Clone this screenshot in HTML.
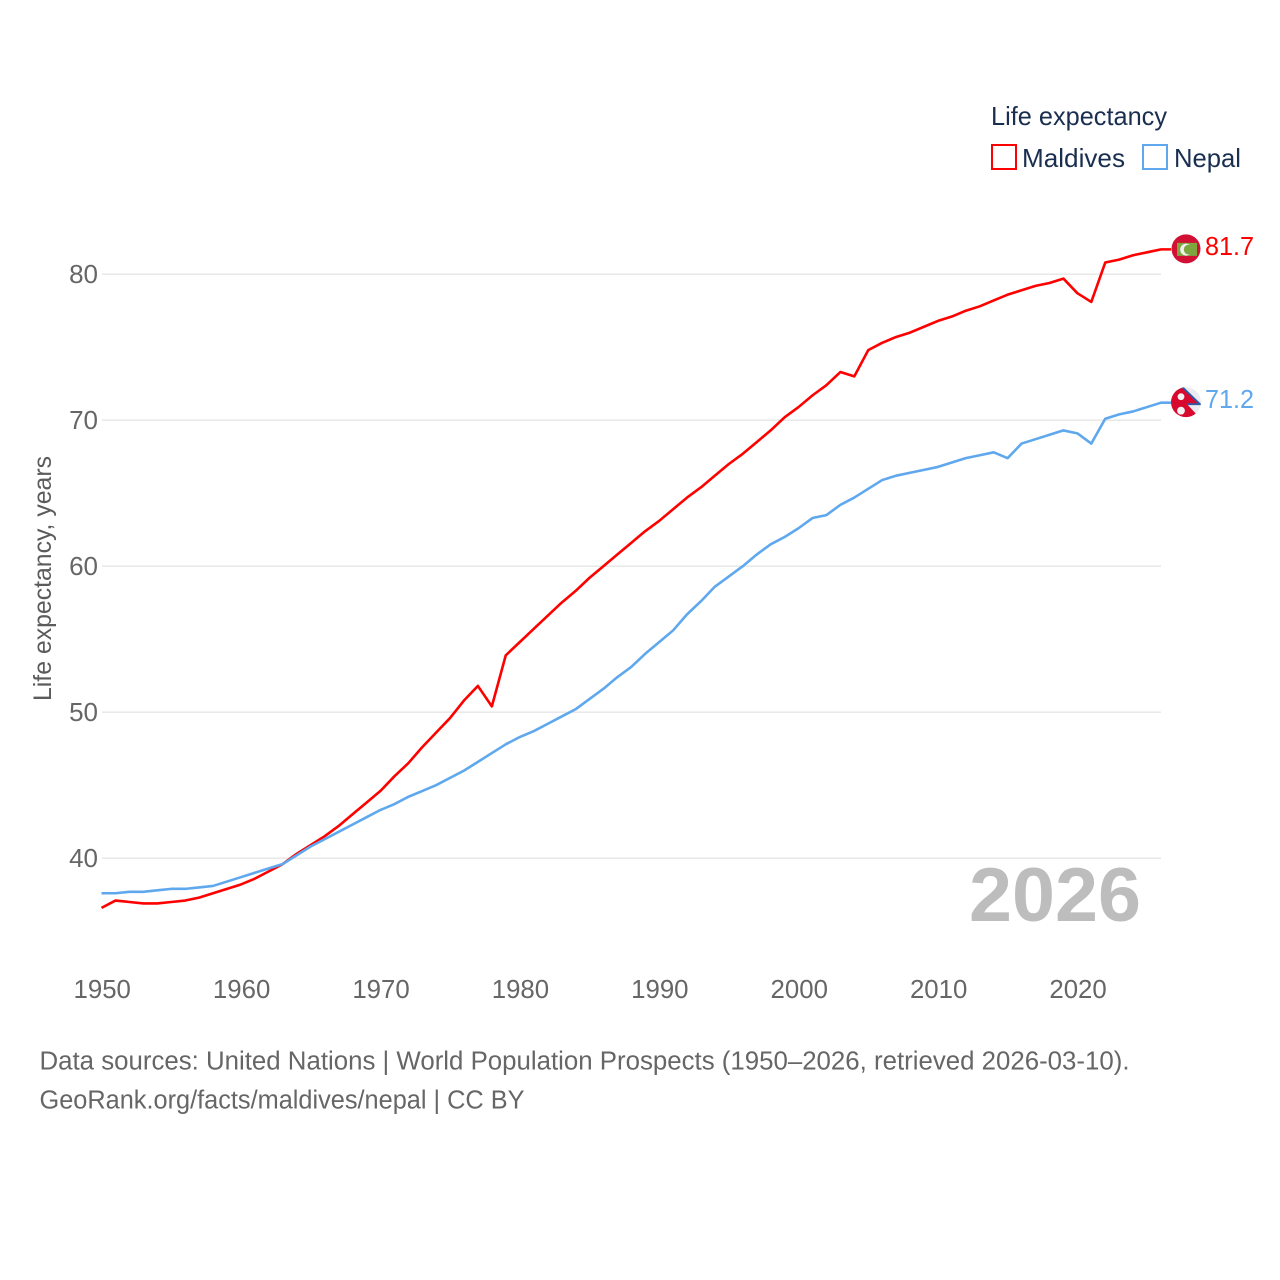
<!DOCTYPE html>
<html>
<head>
<meta charset="utf-8">
<title>Life expectancy: Maldives and Nepal</title>
<style>
html,body{margin:0;padding:0;background:#fff;}
svg{display:block;}
text{font-family:"Liberation Sans",sans-serif;}
</style>
</head>
<body>
<svg id="chart" xmlns="http://www.w3.org/2000/svg" width="1280" height="1280" viewBox="0 0 1280 1280">
  <rect x="0" y="0" width="1280" height="1280" fill="#fff"/>
  <defs>
    <clipPath id="clip-mv"><circle id="clip-mv-c" r="14.5"/></clipPath>
    <clipPath id="clip-np"><circle id="clip-np-c" r="15"/></clipPath>
  </defs>
  <g id="grid"></g>
  <g id="yticks"></g>
  <g id="xticks"></g>
  <text transform="translate(51,578.5) rotate(-90)" text-anchor="middle" font-size="25" fill="#5b5b5b" textLength="245" lengthAdjust="spacingAndGlyphs">Life expectancy, years</text>
  <text x="969" y="921" font-size="76" font-weight="700" fill="#bdbdbd" textLength="172" lengthAdjust="spacingAndGlyphs">2026</text>
  <g id="series"></g>
  <g id="flags"></g>
  <g>
    <text x="991" y="125" font-size="26" fill="#1a2f50" textLength="176" lengthAdjust="spacingAndGlyphs">Life expectancy</text>
    <g>
      <rect x="992" y="145" width="24" height="24" fill="#fff" stroke="#ff0000" stroke-width="2"/>
      <text x="1022" y="167" font-size="26" fill="#1a2f50" textLength="103" lengthAdjust="spacingAndGlyphs">Maldives</text>
    </g>
    <g>
      <rect x="1143" y="145" width="24" height="24" fill="#fff" stroke="#5fa8ee" stroke-width="2"/>
      <text x="1174" y="167" font-size="26" fill="#1a2f50" textLength="67" lengthAdjust="spacingAndGlyphs">Nepal</text>
    </g>
  </g>
  <text x="39.5" y="1069.5" font-size="25.5" fill="#666" textLength="1090" lengthAdjust="spacingAndGlyphs">Data sources: United Nations | World Population Prospects (1950–2026, retrieved 2026-03-10).</text>
  <text x="39.5" y="1108.5" font-size="25.5" fill="#666" textLength="485" lengthAdjust="spacingAndGlyphs">GeoRank.org/facts/maldives/nepal | CC BY</text>
</svg>
<script>
const startYear = 1950;
const maldivesValues = [36.6,37.1,37.0,36.9,36.9,37.0,37.1,37.3,37.6,37.9,38.2,38.6,39.1,39.6,40.3,40.9,41.5,42.2,43.0,43.8,44.6,45.6,46.5,47.6,48.6,49.6,50.8,51.8,50.4,53.9,54.8,55.7,56.6,57.5,58.3,59.2,60.0,60.8,61.6,62.4,63.1,63.9,64.7,65.4,66.2,67.0,67.7,68.5,69.3,70.2,70.9,71.7,72.4,73.3,73.0,74.8,75.3,75.7,76.0,76.4,76.8,77.1,77.5,77.8,78.2,78.6,78.9,79.2,79.4,79.7,78.7,78.1,80.8,81.0,81.3,81.5,81.7];
const nepalValues = [37.6,37.6,37.7,37.7,37.8,37.9,37.9,38.0,38.1,38.4,38.7,39.0,39.3,39.6,40.2,40.8,41.3,41.8,42.3,42.8,43.3,43.7,44.2,44.6,45.0,45.5,46.0,46.6,47.2,47.8,48.3,48.7,49.2,49.7,50.2,50.9,51.6,52.4,53.1,54.0,54.8,55.6,56.7,57.6,58.6,59.3,60.0,60.8,61.5,62.0,62.6,63.3,63.5,64.2,64.7,65.3,65.9,66.2,66.4,66.6,66.8,67.1,67.4,67.6,67.8,67.4,68.4,68.7,69.0,69.3,69.1,68.4,70.1,70.4,70.6,70.9,71.2];
const yTickValues = [40,50,60,70,80];
const xTickYears = [1950,1960,1970,1980,1990,2000,2010,2020];

const NS = 'http://www.w3.org/2000/svg';
const xScale = function (year) { return 101.5 + (year - 1950) * (1059.5 / 76); };
const yScale = function (v) { return 858.2 - (v - 40) * 14.6; };

function mk(parent, tag, attrs, text) {
  const el = document.createElementNS(NS, tag);
  for (const k in attrs) el.setAttribute(k, attrs[k]);
  if (text !== undefined) el.textContent = text;
  parent.appendChild(el);
  return el;
}

const gridG = document.getElementById('grid');
const yG = document.getElementById('yticks');
const xG = document.getElementById('xticks');
const seriesG = document.getElementById('series');
const flagsG = document.getElementById('flags');

yTickValues.forEach(function (v) {
  const line = mk(gridG, 'line', {x1: 102, x2: 1161, y1: yScale(v), y2: yScale(v), stroke: '#e6e6e6', 'stroke-width': 1.3});
  
  
  const label = mk(yG, 'text', {x: 98, y: yScale(v) + 8.7, 'text-anchor': 'end', 'font-size': 26, fill: '#666'}, String(v));
  
  
});

xTickYears.forEach(function (yr) {
  const label = mk(xG, 'text', {x: xScale(yr) + 0.7, y: 998, 'text-anchor': 'middle', 'font-size': 25.8, fill: '#666'}, String(yr));
  
  
});

function drawSeries(values, color, key) {
  let pts = values.map(function (v, i) {
    return xScale(startYear + i).toFixed(2) + ',' + yScale(v).toFixed(2);
  });
  const last = values[values.length - 1];
  pts.push((xScale(startYear + values.length - 1) + 10).toFixed(2) + ',' + yScale(last).toFixed(2));
  const line = mk(seriesG, 'polyline', {points: pts.join(' '), fill: 'none', stroke: color, 'stroke-width': 2.6, 'stroke-linejoin': 'round'});
  
  
  const lab = mk(seriesG, 'text', {x: 1205, y: yScale(last) + 5.5, 'font-size': 25.5, fill: color, textLength: 49, lengthAdjust: 'spacingAndGlyphs'}, last.toFixed(1));
  
  
}
drawSeries(maldivesValues, '#ff0000', 'maldives');
drawSeries(nepalValues, '#5fa8ee', 'nepal');

/* Flags follow the final data value of each series */
const flagCx = 1186;
const mvCy = yScale(maldivesValues[maldivesValues.length - 1]) - 0.5;
const npCy = yScale(nepalValues[nepalValues.length - 1]) - 0.5;

document.getElementById('clip-mv-c').setAttribute('cx', flagCx);
document.getElementById('clip-mv-c').setAttribute('cy', mvCy);
document.getElementById('clip-np-c').setAttribute('cx', flagCx);
document.getElementById('clip-np-c').setAttribute('cy', npCy);

const mvFlag = mk(flagsG, 'g', {'clip-path': 'url(#clip-mv)'});


mk(mvFlag, 'rect', {x: flagCx - 15, y: mvCy - 15, width: 30, height: 30, fill: '#d21034'});
mk(mvFlag, 'rect', {x: flagCx - 9, y: mvCy - 6, width: 20, height: 13, fill: '#7da63f'});
mk(mvFlag, 'circle', {cx: flagCx + 0.2, cy: mvCy + 0.7, r: 6, fill: '#efefef'});
mk(mvFlag, 'circle', {cx: flagCx + 2.8, cy: mvCy + 0.7, r: 5, fill: '#7da63f'});

const npFlag = mk(flagsG, 'g', {'clip-path': 'url(#clip-np)'});


mk(npFlag, 'rect', {x: flagCx - 16, y: npCy - 16, width: 32, height: 32, fill: '#ececf0'});
mk(npFlag, 'path', {
  d: 'M' + (flagCx - 16) + ' ' + (npCy - 16) + 'L' + (flagCx - 5) + ' ' + (npCy - 16) +
     'L' + (flagCx + 14) + ' ' + (npCy + 2) + 'L' + (flagCx + 1) + ' ' + (npCy + 2) +
     'L' + (flagCx + 15) + ' ' + (npCy + 17) + 'L' + (flagCx - 16) + ' ' + (npCy + 17) + 'Z',
  fill: '#d8092f'
});
mk(npFlag, 'polyline', {
  points: (flagCx - 4) + ',' + (npCy - 15.5) + ' ' + (flagCx + 14) + ',' + (npCy + 2) + ' ' +
          (flagCx + 1) + ',' + (npCy + 2),
  fill: 'none', stroke: '#2b5aa8', 'stroke-width': 1.8
});
mk(npFlag, 'circle', {cx: flagCx - 5, cy: npCy - 5.5, r: 3.4, fill: '#f3f3f3'});
mk(npFlag, 'circle', {cx: flagCx - 5, cy: npCy + 8.5, r: 3.9, fill: '#f3f3f3'});
</script>
</body>
</html>
